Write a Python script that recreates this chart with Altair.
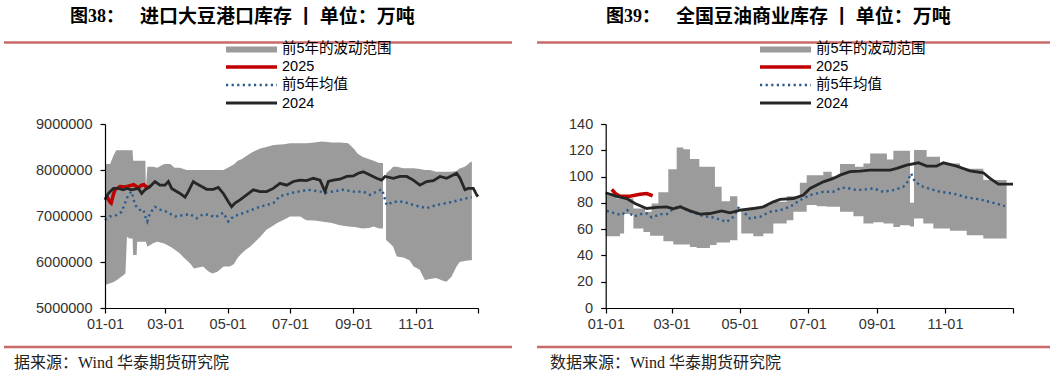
import altair as alt
import pandas as pd

# ---------------- 图38：进口大豆港口库存 ----------------
soy_band_a_day = [0, 5, 8, 11, 16, 20, 21.5, 24, 27, 27.5, 31, 31.5, 39.5, 40, 41.5, 47, 51, 58, 64, 68, 73, 77, 80,
                  84, 87, 96, 101, 105, 110, 116, 122, 126, 130, 134, 138, 142, 147, 152, 158, 164, 168,
                  175, 181, 191, 197, 205, 212, 222, 230, 238, 244, 247, 252, 258, 263, 268, 272]
soy_band_a_low = [5500000, 5540000, 5560000, 5600000, 5680000, 5750000, 6550000, 6510000, 6510000, 6150000,
                  6150000, 6440000, 6440000,
                  6440000, 6330000, 6410000, 6440000, 6400000, 6330000, 6270000, 6190000, 6100000, 6040000,
                  5950000, 5860000, 5900000, 5800000, 5750000, 5790000, 5900000, 5900000, 5950000, 6100000,
                  6190000, 6270000, 6330000, 6440000, 6550000, 6700000, 6780000, 6840000, 6920000, 6990000,
                  6990000, 6910000, 6900000, 6880000, 6850000, 6800000, 6770000, 6760000, 6750000, 6730000,
                  6740000, 6770000, 6730000, 6730000]
soy_band_a_high = [8130000, 8130000, 8300000, 8430000, 8430000, 8430000, 8430000, 8430000, 8430000, 8200000,
                   8200000, 8200000, 8200000,
                   7620000, 8070000, 8070000, 8050000, 8130000, 8130000, 8050000, 8050000, 8020000, 8000000,
                   8000000, 8000000, 8000000, 8000000, 8000000, 8000000, 8000000, 8070000, 8120000, 8200000,
                   8240000, 8300000, 8360000, 8420000, 8470000, 8500000, 8540000, 8550000, 8560000, 8580000,
                   8580000, 8580000, 8600000, 8620000, 8600000, 8600000, 8580000, 8450000, 8360000, 8290000,
                   8240000, 8200000, 8150000, 8150000]
soy_band_b_day = [275, 279, 282, 285.5, 292, 298, 302, 308, 313, 318, 324, 330, 334, 339, 344, 347, 352, 355, 358, 359]
soy_band_b_low = [6480000, 6400000, 6330000, 6120000, 6100000, 6040000, 5900000, 5830000, 5610000, 5630000,
                  5650000, 5600000, 5570000, 5680000, 5900000, 6000000, 6020000, 6030000, 6040000, 6040000]
soy_band_b_high = [7930000, 8000000, 8070000, 8070000, 8040000, 8040000, 8040000, 8020000, 8000000, 8000000,
                   7960000, 7960000, 7960000, 7960000, 7980000, 8030000, 8070000, 8120000, 8180000, 8180000]

soy_2025_day = [0, 2.5, 4.9, 6, 8, 9.8, 14.7, 20, 24.5, 28, 31, 33, 35.9, 38, 40.8, 44]
soy_2025_val = [7420000, 7400000, 7300000, 7280000, 7450000, 7570000, 7640000, 7630000, 7660000, 7680000,
                7640000, 7620000, 7670000, 7680000, 7620000, 7640000]

soy_mean_day = [0, 4.9, 11.4, 16.3, 19.6, 22.8, 26.1, 29.4, 34.2, 37.5, 40.1, 41.4, 44, 48.9, 53.8, 60.3,
                68.5, 76.6, 83.2, 89.7, 96.2, 102.7, 107.6, 115.8, 120.7, 125.6, 138.6, 151.7, 164.7, 171.2,
                184.3, 199, 210.4, 216.9, 233.2, 243, 252.8, 259.3, 270.7, 272.3, 275.6, 282.1, 291.9, 301.7,
                314.7, 324.5, 334.3, 347.4, 358.8]
soy_mean_val = [6910000, 6990000, 7020000, 7090000, 7280000, 7460000, 7530000, 7240000, 7130000, 7140000,
                6950000, 6880000, 7060000, 7200000, 7140000, 7090000, 6990000, 7020000, 7040000, 6950000,
                7040000, 7020000, 6970000, 7070000, 6880000, 6990000, 7090000, 7200000, 7280000, 7430000,
                7510000, 7570000, 7530000, 7510000, 7570000, 7530000, 7530000, 7460000, 7580000, 7490000,
                7240000, 7310000, 7310000, 7240000, 7170000, 7240000, 7280000, 7350000, 7410000]

soy_2024_day = [0, 3.3, 8.2, 13, 17.9, 21.2, 26.1, 32.6, 35.9, 39.1, 44, 48.9, 53.8, 58.7, 62, 65.2, 73.4,
                78.3, 81.5, 86.4, 89.7, 94.6, 99.5, 106, 110.9, 115.8, 120.7, 123.9, 127.2, 132.1, 138.6,
                145.1, 151.7, 158.2, 164.7, 171.2, 177.8, 184.3, 190.8, 197.3, 203.8, 210.4, 215.3, 218.5,
                223.4, 229.9, 236.5, 243, 247.9, 252.8, 259.3, 265.8, 270.7, 274, 282.1, 288.7, 295.2, 301.7,
                308.2, 314.7, 321.3, 327.8, 334.3, 340.8, 344.1, 347.4, 352.2, 355.5, 360.4, 363.7, 365]
soy_2024_val = [7350000, 7490000, 7600000, 7600000, 7570000, 7600000, 7570000, 7600000, 7490000, 7570000,
                7640000, 7750000, 7670000, 7670000, 7750000, 7600000, 7490000, 7410000, 7530000, 7750000,
                7700000, 7640000, 7580000, 7580000, 7620000, 7490000, 7310000, 7200000, 7280000, 7350000,
                7460000, 7570000, 7530000, 7530000, 7600000, 7710000, 7670000, 7750000, 7780000, 7770000,
                7820000, 7780000, 7530000, 7750000, 7780000, 7800000, 7860000, 7870000, 7930000, 7960000,
                7890000, 7820000, 7780000, 7860000, 7820000, 7860000, 7860000, 7780000, 7670000, 7750000,
                7770000, 7860000, 7820000, 7890000, 7930000, 7820000, 7570000, 7600000, 7600000, 7460000,
                7420000]

soy_y_ticks = [5000000, 6000000, 7000000, 8000000, 9000000]

# ---------------- 图39：全国豆油商业库存 ----------------
oil_band_a_day = [0, 9.8, 12.8, 16.5, 24.8, 33.8, 35.2, 39.8, 41.2, 47.2, 51.7, 56.1, 60.6, 63.6, 69.6,
                  75.5, 81.5, 83.9, 93.4, 97.9, 99.4, 103.9, 111.4, 118]
oil_band_a_low = [54.6, 54.6, 56.7, 71.5, 60.5, 57.9, 57.9, 54.9, 54.9, 54.9, 50.8, 50.8, 48.3, 48.3, 48.3,
                  46.5, 45.7, 45.7, 48.0, 48.0, 49.8, 49.8, 51.5, 51.5]
oil_band_a_high = [87.5, 83.4, 83.4, 83.4, 75.8, 75.8, 73.2, 73.2, 79.6, 88.0, 88.0, 105.5, 105.5, 122.2,
                   120.7, 113.3, 113.3, 107.5, 107.5, 92.2, 92.2, 81.3, 85.1, 85.1]
oil_band_b_day = [121.5, 132.3, 141.3, 147.3, 150.2, 162.2, 168.2, 174, 180.1, 189.1, 195, 198, 202.5, 210,
                  222, 223.4, 231, 237, 240, 249, 252, 257.8, 263.7, 272.7, 276.3, 284.6, 287.6, 293.6,
                  299.6, 308.5, 317.5, 323.5, 338.4, 359.3]
oil_band_b_low = [56.7, 54.6, 56.7, 56.7, 64.3, 66.8, 73.2, 73.2, 78.3, 77.5, 77.5, 77.0, 77.0, 73.2, 69.9,
                  69.9, 64.3, 64.3, 65.3, 64.3, 64.3, 61.7, 63.0, 62.0, 68.1, 64.3, 64.3, 60.5, 60.5, 58.7,
                  58.7, 55.4, 52.8, 52.8]
oil_band_b_high = [75.0, 77.0, 78.0, 80.8, 80.8, 85.0, 85.0, 95.3, 101.0, 101.0, 103.7, 103.7, 100.0, 109.5,
                   109.5, 107.5, 110.0, 117.6, 117.6, 117.6, 113.0, 119.7, 119.7, 80.0, 120.2, 120.2, 115.0,
                   115.0, 110.0, 110.0, 106.0, 106.0, 97.3, 97.3]

oil_2025_day = [5.4, 9, 12.8, 17, 21.8, 26, 30.8, 36.7, 42.1]
oil_2025_val = [90.2, 87.0, 85.1, 85.0, 85.1, 85.8, 86.6, 87.1, 85.4]

oil_mean_day = [0.9, 6.9, 14.3, 19.4, 24.8, 30.8, 36.7, 41.2, 48.7, 54.7, 60.6, 66.6, 72.6, 81.5, 87.5,
                96.5, 108.4, 114.4, 119.5, 123.4, 129.3, 138.3, 147.3, 156.2, 165.2, 174.1, 183.1, 195,
                204, 211.5, 218.9, 224.9, 233.9, 239.8, 248.8, 257.8, 266.7, 269.7, 273.6, 277.2, 284.6,
                299.6, 311.5, 323.5, 335.4, 347.4, 357.8]
oil_mean_val = [73.9, 72.4, 70.6, 74.4, 69.4, 71.4, 71.9, 68.9, 71.4, 71.4, 75.5, 77.7, 74.4, 71.9, 69.9,
                68.9, 65.5, 69.4, 77.0, 73.2, 68.1, 69.4, 73.2, 74.4, 77.0, 82.0, 85.9, 88.4, 88.4, 91.7,
                90.9, 89.7, 90.4, 91.0, 88.4, 89.7, 92.2, 94.7, 102.4, 96.0, 92.2, 88.4, 87.1, 84.1, 82.6,
                80.0, 77.5]

oil_2024_day = [0, 9.9, 18.8, 26.3, 36.7, 45.7, 54.7, 60.6, 66.6, 75.6, 84.5, 93.5, 103.9, 111.4, 120.4,
                132.3, 141.3, 150.2, 156.2, 168.2, 177.1, 183.1, 195, 204, 210, 218.9, 227.9, 236.9,
                254.8, 260.8, 269.7, 280.2, 287.6, 296.6, 302.6, 314.5, 326.5, 338.4, 344.4, 351.9, 365]
oil_2024_val = [87.7, 85.0, 83.3, 79.5, 75.7, 76.5, 77.0, 75.5, 77.0, 73.9, 71.4, 71.9, 73.9, 72.4, 74.4,
                75.7, 77.0, 80.8, 82.6, 83.3, 85.9, 91.0, 96.0, 98.6, 101.1, 103.7, 104.2, 104.9, 104.9,
                106.2, 108.7, 110.5, 108.0, 108.0, 110.5, 108.0, 104.4, 102.9, 98.6, 94.3, 94.3]

oil_y_ticks = [0, 20, 40, 60, 80, 100, 120, 140]

# ---------------- shared ----------------
tick_days = [0, 59, 120, 181, 243, 304, 365]
tick_labels = ["01-01", "03-01", "05-01", "07-01", "09-01", "11-01", ""]
legend_labels = ["前5年的波动范围", "2025", "前5年均值", "2024"]

BAND = "#9b9b9b"
RED = "#c00000"
BLUE = "#2a5b8c"
BLACK = "#262626"
RULE = "#c96a6a"
AXFONT = "Liberation Sans"
LGFONT = "Liberation Sans, Noto Sans CJK SC"

label_expr = " : ".join(
    f"datum.value == {d} ? '{l}'" for d, l in zip(tick_days, tick_labels)
) + " : ''"

one = pd.DataFrame({"k": [0]})


def band_df(days_a, low_a, high_a, days_b, low_b, high_b):
    a = pd.DataFrame({"day": days_a, "low": low_a, "high": high_a, "seg": "a"})
    b = pd.DataFrame({"day": days_b, "low": low_b, "high": high_b, "seg": "b"})
    return pd.concat([a, b], ignore_index=True)


def txt(x, y, s, size=14.5, font=LGFONT, weight="normal", color="black"):
    return alt.Chart(one).mark_text(
        align="left", baseline="middle", font=font, fontSize=size, fontWeight=weight, color=color
    ).encode(x=alt.value(x), y=alt.value(y), text=alt.value(s))


def hrule(x1, x2, y, color, width, dash=None):
    kw = dict(color=color, strokeWidth=width)
    if dash:
        kw["strokeDash"] = dash
    return alt.Chart(one).mark_rule(**kw).encode(x=alt.value(x1), x2=alt.value(x2), y=alt.value(y))


def panel(xr, ydom, yticks, yfmt, band, interp, r_day, r_val, m_day, m_val, b_day, b_val,
          t1, t1x, t2, t2x, rule_x, lg_x, src, src_x, width):
    X = alt.X("day:Q", scale=alt.Scale(domain=[0, 365], range=xr, nice=False, zero=False),
              axis=alt.Axis(values=tick_days, labelExpr=label_expr, offset=-69, tickSize=5,
                            domainColor="black", tickColor="black", domainWidth=1.2, tickWidth=1.2,
                            labelFont=AXFONT, labelFontSize=14.5, labelColor="#333333",
                            labelPadding=4, grid=False, title=None, labelFlush=False,
                            labelOverlap=False, zindex=1))
    Y = alt.Y("v:Q", scale=alt.Scale(domain=ydom, range=[308, 124], nice=False, zero=False),
              axis=alt.Axis(values=yticks, format=yfmt, offset=-xr[0], tickSize=5,
                            domainColor="black", tickColor="black", domainWidth=1.2, tickWidth=1.2,
                            labelFont=AXFONT, labelFontSize=14.5, labelColor="#333333",
                            labelPadding=8, grid=False, title=None, labelFlush=False,
                            labelOverlap=False, zindex=1))
    Y2 = alt.Y("high:Q", scale=alt.Scale(domain=ydom, range=[308, 124], nice=False, zero=False))

    band_layer = alt.Chart(band).mark_area(interpolate=interp, color=BAND, opacity=1).encode(
        x=X, y=Y2, y2="low:Q", detail="seg:N")
    red = alt.Chart(pd.DataFrame({"day": r_day, "v": r_val})).mark_line(
        color=RED, strokeWidth=3.5).encode(x=X, y=Y)
    mean = alt.Chart(pd.DataFrame({"day": m_day, "v": m_val})).mark_line(
        color=BLUE, strokeWidth=2.4, strokeDash=[2.2, 3.4]).encode(x=X, y=Y)
    blk = alt.Chart(pd.DataFrame({"day": b_day, "v": b_val})).mark_line(
        color=BLACK, strokeWidth=2.8).encode(x=X, y=Y)

    deco = [
        txt(t1x, 17, t1, size=18, font="Liberation Serif, Noto Sans CJK SC", weight="bold"),
        txt(t2x, 17, t2, size=19, font="Noto Sans CJK SC", weight="bold"),
        hrule(rule_x[0], rule_x[1], 42.5, RULE, 2.5),
        hrule(rule_x[0], rule_x[1], 347, RULE, 2.5),
        alt.Chart(one).mark_rect(color=BAND).encode(
            x=alt.value(lg_x), x2=alt.value(lg_x + 51), y=alt.value(46.5), y2=alt.value(52.5)),
        hrule(lg_x, lg_x + 51, 67, RED, 3.5),
        hrule(lg_x, lg_x + 51, 85, BLUE, 2.4, dash=[2.2, 3.4]),
        hrule(lg_x, lg_x + 51, 103, BLACK, 3),
        txt(lg_x + 56, 48.5, legend_labels[0]),
        txt(lg_x + 56, 67, legend_labels[1]),
        txt(lg_x + 56, 85, legend_labels[2]),
        txt(lg_x + 56, 103.5, legend_labels[3]),
        txt(src_x, 363, src, size=16, font="Liberation Serif, Noto Sans CJK SC", color="#222222"),
    ]
    return alt.layer(band_layer, red, mean, blk, *deco).properties(width=width, height=377)


left = panel(
    [105, 478], [5000000, 9000000], soy_y_ticks, "d",
    band_df(soy_band_a_day, soy_band_a_low, soy_band_a_high, soy_band_b_day, soy_band_b_low, soy_band_b_high),
    "linear",
    soy_2025_day, soy_2025_val, soy_mean_day, soy_mean_val, soy_2024_day, soy_2024_val,
    "图38：", 70, "进口大豆港口库存 丨 单位：万吨", 140, [4, 512], 226,
    "据来源：Wind  华泰期货研究院", 14, 528)

right = panel(
    [77.7, 485], [0, 140], oil_y_ticks, "d",
    band_df(oil_band_a_day, oil_band_a_low, oil_band_a_high, oil_band_b_day, oil_band_b_low, oil_band_b_high),
    "step-after",
    oil_2025_day, oil_2025_val, oil_mean_day, oil_mean_val, oil_2024_day, oil_2024_val,
    "图39：", 78, "全国豆油商业库存 丨 单位：万吨", 148, [9, 522], 232,
    "数据来源：Wind  华泰期货研究院", 22, 529)

chart = alt.hconcat(left, right, spacing=0).properties(
    padding=0, background="white"
).configure_view(stroke=None).resolve_scale(x="independent", y="independent")

chart.save("out.html", embed_options={"renderer": "svg", "actions": False})
